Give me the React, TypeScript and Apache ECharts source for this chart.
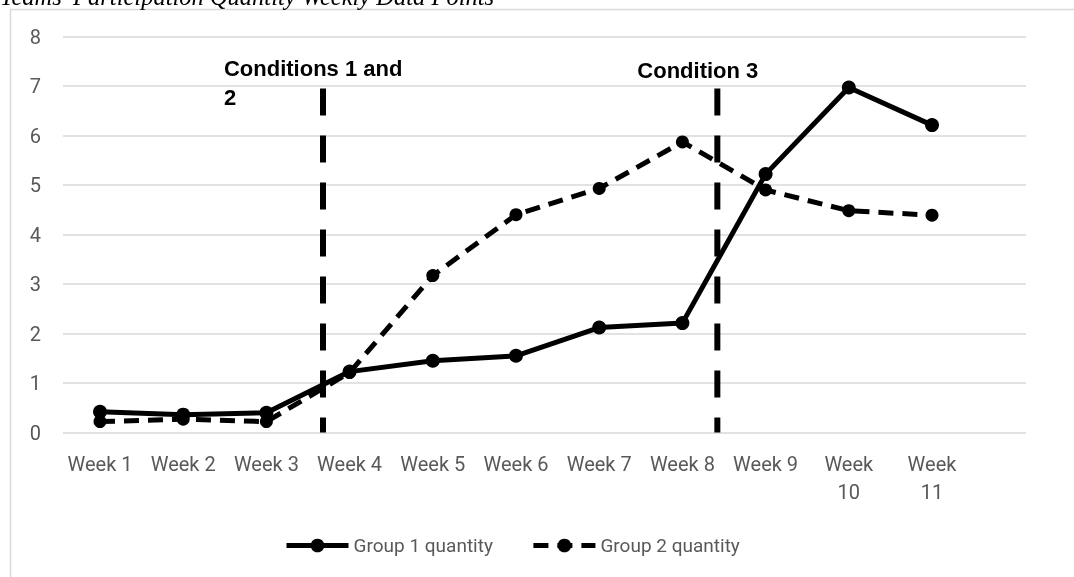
import React, { useEffect, useRef } from "react";
import * as echarts from "echarts";

const weeks = ["Week 1", "Week 2", "Week 3", "Week 4", "Week 5", "Week 6", "Week 7", "Week 8", "Week 9", "Week 10", "Week 11"];
const group1 = [0.42, 0.36, 0.4, 1.23, 1.45, 1.55, 2.12, 2.21, 5.22, 6.97, 6.21];
const group2 = [0.22, 0.27, 0.22, 1.21, 3.17, 4.4, 4.93, 5.87, 4.9, 4.48, 4.39];
const seriesNames = ["Group 1 quantity", "Group 2 quantity"];
const yMin = 0;
const yMax = 8;
const yStep = 1;
const title = "Teams' Participation Quantity Weekly Data Points";
// phase lines: position in category-index units, top value, annotation text
const phaseAt = [2.68, 7.42];
const phaseTop = [6.95, 6.95];
const phaseText = ["Conditions 1 and\n2", "Condition 3"];
const phaseDx = [-99, -80];
const phaseDy = [-34, -32];

const GRAY = "#595959";
const GRID = "#d9d9d9";
const FONT = "Roboto";

export default function App() {
  const ref = useRef<HTMLDivElement>(null);
  useEffect(() => {
    const chart = echarts.init(ref.current!, null, { renderer: "svg" });
    const top = 36.5;
    const bottom = 577 - 432.5;
    const option: any = {
      animation: false,
      textStyle: { fontFamily: FONT },
      grid: [
        { left: 63, right: 48, top, bottom },
        { left: 58.4, width: 915.2, top, bottom },
      ],
      xAxis: [
        { type: "value", gridIndex: 0, show: false, min: 0, max: 1 },
        {
          type: "category",
          gridIndex: 1,
          data: weeks,
          axisLine: { show: false },
          axisTick: { show: false },
          splitLine: { show: false },
          axisLabel: {
            interval: 0,
            margin: 17,
            color: GRAY,
            fontFamily: FONT,
            fontSize: 20,
            lineHeight: 28,
            formatter: (v: string) => (v.length > 6 ? v.replace(" ", "\n") : v),
          },
        },
        { type: "value", gridIndex: 1, show: false, min: -0.5, max: weeks.length - 0.5 },
      ],
      yAxis: [
        {
          type: "value",
          gridIndex: 0,
          min: yMin,
          max: yMax,
          interval: yStep,
          axisLine: { show: false },
          axisTick: { show: false },
          splitLine: { lineStyle: { color: GRID, width: 1.5 } },
          axisLabel: { color: GRAY, fontFamily: FONT, fontSize: 20, margin: 22 },
        },
        { type: "value", gridIndex: 1, min: yMin, max: yMax, show: false },
      ],
      legend: {
        data: seriesNames,
        left: 279,
        top: 531,
        itemWidth: 62,
        itemHeight: 17,
        itemGap: 38,
        lineStyle: { width: 5 },
        textStyle: { color: GRAY, fontFamily: FONT, fontSize: 19 },
      },
      series: [
        {
          name: seriesNames[0],
          type: "line",
          xAxisIndex: 1,
          yAxisIndex: 1,
          data: group1,
          symbol: "circle",
          symbolSize: 14,
          itemStyle: { color: "#000" },
          lineStyle: { color: "#000", width: 5 },
          z: 3,
        },
        {
          name: seriesNames[1],
          type: "line",
          xAxisIndex: 1,
          yAxisIndex: 1,
          data: group2,
          symbol: "circle",
          symbolSize: 13,
          itemStyle: { color: "#000" },
          lineStyle: { color: "#000", width: 5, type: [15, 9] },
          z: 4,
        },
        ...phaseAt.map((at, i) => ({
          type: "line",
          name: "phase" + i,
          xAxisIndex: 2,
          yAxisIndex: 1,
          data: [
            [at, phaseTop[i]],
            [at, 0],
          ],
          symbol: "none",
          silent: true,
          lineStyle: { color: "#000", width: 6, type: [27, 20], cap: "butt" },
          z: 2,
        })),
      ],
    };
    chart.setOption(option);
    const labels = phaseAt.map((at, i) => {
      const p = chart.convertToPixel({ seriesIndex: 2 + i }, [at, phaseTop[i]]) as number[];
      return {
        type: "text",
        x: p[0] + phaseDx[i],
        y: p[1] + phaseDy[i],
        style: {
          text: phaseText[i],
          font: 'bold 22px "Liberation Sans"',
          fill: "#000",
          lineHeight: 29,
          align: "left",
          verticalAlign: "top",
        },
      };
    });
    chart.setOption({
      graphic: [
        {
          type: "rect",
          shape: { x: 10.5, y: 9.5, width: 1200, height: 700 },
          style: { fill: "none", stroke: GRID, lineWidth: 1.5 },
          silent: true,
          z: -1,
        },
        {
          type: "text",
          x: 0,
          y: -4,
          style: {
            text: title,
            font: 'italic 24.5px "Liberation Serif"',
            fill: "#000",
            align: "left",
            verticalAlign: "middle",
          },
        },
        ...labels,
      ],
    });
    return () => chart.dispose();
  }, []);
  return <div ref={ref} style={{ position: "fixed", left: 0, top: 0, width: 1074, height: 577 }} />;
}
